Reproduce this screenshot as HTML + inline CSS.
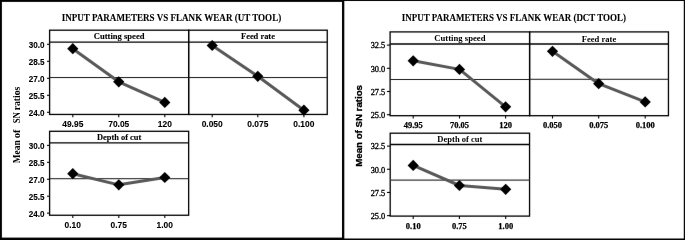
<!DOCTYPE html>
<html><head><meta charset="utf-8"><title>Main effects plots</title>
<style>html,body{margin:0;padding:0;background:#fff;width:685px;height:240px;overflow:hidden}svg{display:block}</style>
</head><body>
<svg xmlns="http://www.w3.org/2000/svg" width="685" height="240" viewBox="0 0 685 240">
<defs>
<filter id="gb" filterUnits="userSpaceOnUse" x="0" y="0" width="685" height="240"><feConvolveMatrix order="3" kernelMatrix="0.0016 0.0371 0.0016 0.0371 0.8450 0.0371 0.0016 0.0371 0.0016" edgeMode="duplicate"/></filter>
<filter id="tb" filterUnits="userSpaceOnUse" x="0" y="0" width="685" height="240"><feConvolveMatrix order="3" kernelMatrix="0 0 0 0 1 0 0 0 0" edgeMode="duplicate"/></filter>
</defs>
<rect x="0" y="0" width="685" height="240" fill="#fff"/>
<g filter="url(#gb)">
<rect x="0" y="0" width="1.9" height="240" fill="#000"/>
<rect x="0" y="0" width="343" height="1.9" fill="#000"/>
<rect x="0" y="237.6" width="343" height="2.4" fill="#000"/>
<line x1="343.15" y1="0" x2="343.15" y2="240" stroke="#000" stroke-width="2.3"/>
<line x1="343" y1="0.5" x2="685" y2="0.5" stroke="#000" stroke-width="1"/>
<line x1="684.4" y1="0" x2="684.4" y2="240" stroke="#000" stroke-width="1.2"/>
<line x1="343" y1="239.25" x2="685" y2="239.25" stroke="#000" stroke-width="1.5"/>
<rect x="49.6" y="30.2" width="139.05" height="84.25" fill="none" stroke="#000" stroke-width="1.3"/>
<line x1="49.6" y1="42.1" x2="188.65" y2="42.1" stroke="#000" stroke-width="1.3"/>
<line x1="49.6" y1="77.55" x2="188.65" y2="77.55" stroke="#1a1a1a" stroke-width="1.0"/>
<line x1="72.8" y1="114.45" x2="72.8" y2="117.25" stroke="#000" stroke-width="1.1"/>
<line x1="118.75" y1="114.45" x2="118.75" y2="117.25" stroke="#000" stroke-width="1.1"/>
<line x1="164.8" y1="114.45" x2="164.8" y2="117.25" stroke="#000" stroke-width="1.1"/>
<line x1="47" y1="44.3" x2="49.6" y2="44.3" stroke="#000" stroke-width="1.1"/>
<line x1="47" y1="61.3" x2="49.6" y2="61.3" stroke="#000" stroke-width="1.1"/>
<line x1="47" y1="78.3" x2="49.6" y2="78.3" stroke="#000" stroke-width="1.1"/>
<line x1="47" y1="95.3" x2="49.6" y2="95.3" stroke="#000" stroke-width="1.1"/>
<line x1="47" y1="112.3" x2="49.6" y2="112.3" stroke="#000" stroke-width="1.1"/>
<path d="M72.8,48.7 L118.75,81.8 L164.8,102.4" fill="none" stroke="#595959" stroke-width="3.0" stroke-linejoin="round"/>
<path d="M72.8,43.1 L78.4,48.7 L72.8,54.3 L67.2,48.7 Z" fill="#000"/>
<path d="M118.75,76.2 L124.35,81.8 L118.75,87.4 L113.15,81.8 Z" fill="#000"/>
<path d="M164.8,96.8 L170.4,102.4 L164.8,108 L159.2,102.4 Z" fill="#000"/>
<rect x="188.65" y="30.2" width="138.6" height="84.25" fill="none" stroke="#000" stroke-width="1.3"/>
<line x1="188.65" y1="42.1" x2="327.25" y2="42.1" stroke="#000" stroke-width="1.3"/>
<line x1="188.65" y1="77.55" x2="327.25" y2="77.55" stroke="#1a1a1a" stroke-width="1.0"/>
<line x1="212.2" y1="114.45" x2="212.2" y2="117.25" stroke="#000" stroke-width="1.1"/>
<line x1="257.8" y1="114.45" x2="257.8" y2="117.25" stroke="#000" stroke-width="1.1"/>
<line x1="303.9" y1="114.45" x2="303.9" y2="117.25" stroke="#000" stroke-width="1.1"/>
<path d="M212.2,45.5 L257.8,76.3 L303.9,110.2" fill="none" stroke="#595959" stroke-width="3.0" stroke-linejoin="round"/>
<path d="M212.2,39.9 L217.8,45.5 L212.2,51.1 L206.6,45.5 Z" fill="#000"/>
<path d="M257.8,70.7 L263.4,76.3 L257.8,81.9 L252.2,76.3 Z" fill="#000"/>
<path d="M303.9,104.6 L309.5,110.2 L303.9,115.8 L298.3,110.2 Z" fill="#000"/>
<rect x="49.6" y="131.3" width="139.05" height="83.95" fill="none" stroke="#000" stroke-width="1.3"/>
<line x1="49.6" y1="142.9" x2="188.65" y2="142.9" stroke="#000" stroke-width="1.3"/>
<line x1="49.6" y1="178.7" x2="188.65" y2="178.7" stroke="#1a1a1a" stroke-width="1.0"/>
<line x1="72.8" y1="215.25" x2="72.8" y2="218.05" stroke="#000" stroke-width="1.1"/>
<line x1="118.8" y1="215.25" x2="118.8" y2="218.05" stroke="#000" stroke-width="1.1"/>
<line x1="164.8" y1="215.25" x2="164.8" y2="218.05" stroke="#000" stroke-width="1.1"/>
<line x1="47" y1="145.39" x2="49.6" y2="145.39" stroke="#000" stroke-width="1.1"/>
<line x1="47" y1="162.33" x2="49.6" y2="162.33" stroke="#000" stroke-width="1.1"/>
<line x1="47" y1="179.27" x2="49.6" y2="179.27" stroke="#000" stroke-width="1.1"/>
<line x1="47" y1="196.21" x2="49.6" y2="196.21" stroke="#000" stroke-width="1.1"/>
<line x1="47" y1="213.15" x2="49.6" y2="213.15" stroke="#000" stroke-width="1.1"/>
<path d="M72.8,173.7 L118.8,184.85 L164.8,177.5" fill="none" stroke="#595959" stroke-width="3.0" stroke-linejoin="round"/>
<path d="M72.8,168.1 L78.4,173.7 L72.8,179.3 L67.2,173.7 Z" fill="#000"/>
<path d="M118.8,179.25 L124.4,184.85 L118.8,190.45 L113.2,184.85 Z" fill="#000"/>
<path d="M164.8,171.9 L170.4,177.5 L164.8,183.1 L159.2,177.5 Z" fill="#000"/>
<rect x="390.1" y="31.9" width="139.5" height="83.8" fill="none" stroke="#000" stroke-width="1.3"/>
<line x1="390.1" y1="44" x2="529.6" y2="44" stroke="#000" stroke-width="1.3"/>
<line x1="390.1" y1="79.5" x2="529.6" y2="79.5" stroke="#1a1a1a" stroke-width="1.0"/>
<line x1="413.2" y1="115.7" x2="413.2" y2="118.5" stroke="#000" stroke-width="1.1"/>
<line x1="459.5" y1="115.7" x2="459.5" y2="118.5" stroke="#000" stroke-width="1.1"/>
<line x1="505.6" y1="115.7" x2="505.6" y2="118.5" stroke="#000" stroke-width="1.1"/>
<line x1="386.9" y1="45.1" x2="390.1" y2="45.1" stroke="#000" stroke-width="1.1"/>
<line x1="386.9" y1="68.3" x2="390.1" y2="68.3" stroke="#000" stroke-width="1.1"/>
<line x1="386.9" y1="91.5" x2="390.1" y2="91.5" stroke="#000" stroke-width="1.1"/>
<line x1="386.9" y1="114.7" x2="390.1" y2="114.7" stroke="#000" stroke-width="1.1"/>
<path d="M413.2,60.8 L459.5,69.4 L505.6,106.8" fill="none" stroke="#595959" stroke-width="3.0" stroke-linejoin="round"/>
<path d="M413.2,55.2 L418.8,60.8 L413.2,66.4 L407.6,60.8 Z" fill="#000"/>
<path d="M459.5,63.8 L465.1,69.4 L459.5,75 L453.9,69.4 Z" fill="#000"/>
<path d="M505.6,101.2 L511.2,106.8 L505.6,112.4 L500,106.8 Z" fill="#000"/>
<rect x="529.6" y="31.9" width="138.85" height="83.8" fill="none" stroke="#000" stroke-width="1.3"/>
<line x1="529.6" y1="44" x2="668.45" y2="44" stroke="#000" stroke-width="1.3"/>
<line x1="529.6" y1="79.3" x2="668.45" y2="79.3" stroke="#1a1a1a" stroke-width="1.0"/>
<line x1="552.5" y1="115.7" x2="552.5" y2="118.5" stroke="#000" stroke-width="1.1"/>
<line x1="598.7" y1="115.7" x2="598.7" y2="118.5" stroke="#000" stroke-width="1.1"/>
<line x1="645.2" y1="115.7" x2="645.2" y2="118.5" stroke="#000" stroke-width="1.1"/>
<path d="M552.5,51.3 L598.7,83.7 L645.2,101.9" fill="none" stroke="#595959" stroke-width="3.0" stroke-linejoin="round"/>
<path d="M552.5,45.7 L558.1,51.3 L552.5,56.9 L546.9,51.3 Z" fill="#000"/>
<path d="M598.7,78.1 L604.3,83.7 L598.7,89.3 L593.1,83.7 Z" fill="#000"/>
<path d="M645.2,96.3 L650.8,101.9 L645.2,107.5 L639.6,101.9 Z" fill="#000"/>
<rect x="390.2" y="133.2" width="139.35" height="82.9" fill="none" stroke="#000" stroke-width="1.3"/>
<line x1="390.2" y1="144.5" x2="529.55" y2="144.5" stroke="#000" stroke-width="1.3"/>
<line x1="390.2" y1="180.1" x2="529.55" y2="180.1" stroke="#3a3a3a" stroke-width="1.4"/>
<line x1="413.2" y1="216.1" x2="413.2" y2="218.9" stroke="#000" stroke-width="1.1"/>
<line x1="459.4" y1="216.1" x2="459.4" y2="218.9" stroke="#000" stroke-width="1.1"/>
<line x1="505.7" y1="216.1" x2="505.7" y2="218.9" stroke="#000" stroke-width="1.1"/>
<line x1="387" y1="146.1" x2="390.2" y2="146.1" stroke="#000" stroke-width="1.1"/>
<line x1="387" y1="169.27" x2="390.2" y2="169.27" stroke="#000" stroke-width="1.1"/>
<line x1="387" y1="192.44" x2="390.2" y2="192.44" stroke="#000" stroke-width="1.1"/>
<line x1="387" y1="215.61" x2="390.2" y2="215.61" stroke="#000" stroke-width="1.1"/>
<path d="M413.2,165.4 L459.4,185.5 L505.7,189.3" fill="none" stroke="#595959" stroke-width="3.0" stroke-linejoin="round"/>
<path d="M413.2,159.8 L418.8,165.4 L413.2,171 L407.6,165.4 Z" fill="#000"/>
<path d="M459.4,179.9 L465,185.5 L459.4,191.1 L453.8,185.5 Z" fill="#000"/>
<path d="M505.7,183.7 L511.3,189.3 L505.7,194.9 L500.1,189.3 Z" fill="#000"/>
</g>
<g filter="url(#tb)">
<text x="61.7" y="20.7" font-family="'Liberation Serif', serif" font-size="10" font-weight="bold" text-anchor="start" textLength="219.5" lengthAdjust="spacingAndGlyphs" stroke="#000" stroke-width="0.1">INPUT PARAMETERS VS FLANK WEAR (UT TOOL)</text>
<text transform="translate(20.1,163.3) rotate(-90)" font-family="'Liberation Serif', serif" font-size="9.6" font-weight="bold"><tspan x="0" textLength="23.0" lengthAdjust="spacingAndGlyphs">Mean</tspan><tspan x="25.0" textLength="8.8" lengthAdjust="spacingAndGlyphs">of</tspan><tspan x="40.0" textLength="11.2" lengthAdjust="spacingAndGlyphs">SN</tspan><tspan x="53.0" textLength="23.6" lengthAdjust="spacingAndGlyphs">ratios</tspan></text>
<text x="119.12" y="38.7" font-family="'Liberation Serif', serif" font-size="8.2" font-weight="bold" text-anchor="middle" textLength="50.8" lengthAdjust="spacingAndGlyphs" stroke="#000" stroke-width="0.1">Cutting speed</text>
<text x="72.8" y="126.7" font-family="'Liberation Sans', sans-serif" font-size="9" font-weight="bold" text-anchor="middle" textLength="21.1" lengthAdjust="spacingAndGlyphs" stroke="#000" stroke-width="0.1">49.95</text>
<text x="118.75" y="126.7" font-family="'Liberation Sans', sans-serif" font-size="9" font-weight="bold" text-anchor="middle" textLength="21.1" lengthAdjust="spacingAndGlyphs" stroke="#000" stroke-width="0.1">70.05</text>
<text x="164.8" y="126.7" font-family="'Liberation Sans', sans-serif" font-size="9" font-weight="bold" text-anchor="middle" textLength="14.1" lengthAdjust="spacingAndGlyphs" stroke="#000" stroke-width="0.1">120</text>
<text x="44.5" y="47.75" font-family="'Liberation Sans', sans-serif" font-size="9" font-weight="bold" text-anchor="end" textLength="15.8" lengthAdjust="spacingAndGlyphs" stroke="#000" stroke-width="0.1">30.0</text>
<text x="44.5" y="64.75" font-family="'Liberation Sans', sans-serif" font-size="9" font-weight="bold" text-anchor="end" textLength="15.8" lengthAdjust="spacingAndGlyphs" stroke="#000" stroke-width="0.1">28.5</text>
<text x="44.5" y="81.75" font-family="'Liberation Sans', sans-serif" font-size="9" font-weight="bold" text-anchor="end" textLength="15.8" lengthAdjust="spacingAndGlyphs" stroke="#000" stroke-width="0.1">27.0</text>
<text x="44.5" y="98.75" font-family="'Liberation Sans', sans-serif" font-size="9" font-weight="bold" text-anchor="end" textLength="15.8" lengthAdjust="spacingAndGlyphs" stroke="#000" stroke-width="0.1">25.5</text>
<text x="44.5" y="115.75" font-family="'Liberation Sans', sans-serif" font-size="9" font-weight="bold" text-anchor="end" textLength="15.8" lengthAdjust="spacingAndGlyphs" stroke="#000" stroke-width="0.1">24.0</text>
<text x="257.95" y="38.7" font-family="'Liberation Serif', serif" font-size="8.2" font-weight="bold" text-anchor="middle" textLength="33.9" lengthAdjust="spacingAndGlyphs" stroke="#000" stroke-width="0.1">Feed rate</text>
<text x="212.2" y="126.7" font-family="'Liberation Sans', sans-serif" font-size="9" font-weight="bold" text-anchor="middle" textLength="21.1" lengthAdjust="spacingAndGlyphs" stroke="#000" stroke-width="0.1">0.050</text>
<text x="257.8" y="126.7" font-family="'Liberation Sans', sans-serif" font-size="9" font-weight="bold" text-anchor="middle" textLength="21.1" lengthAdjust="spacingAndGlyphs" stroke="#000" stroke-width="0.1">0.075</text>
<text x="303.9" y="126.7" font-family="'Liberation Sans', sans-serif" font-size="9" font-weight="bold" text-anchor="middle" textLength="21.1" lengthAdjust="spacingAndGlyphs" stroke="#000" stroke-width="0.1">0.100</text>
<text x="119.12" y="139.6" font-family="'Liberation Serif', serif" font-size="8.2" font-weight="bold" text-anchor="middle" textLength="44.4" lengthAdjust="spacingAndGlyphs" stroke="#000" stroke-width="0.1">Depth of cut</text>
<text x="72.8" y="227.6" font-family="'Liberation Sans', sans-serif" font-size="9" font-weight="bold" text-anchor="middle" textLength="16.4" lengthAdjust="spacingAndGlyphs" stroke="#000" stroke-width="0.1">0.10</text>
<text x="118.8" y="227.6" font-family="'Liberation Sans', sans-serif" font-size="9" font-weight="bold" text-anchor="middle" textLength="16.4" lengthAdjust="spacingAndGlyphs" stroke="#000" stroke-width="0.1">0.75</text>
<text x="164.8" y="227.6" font-family="'Liberation Sans', sans-serif" font-size="9" font-weight="bold" text-anchor="middle" textLength="16.4" lengthAdjust="spacingAndGlyphs" stroke="#000" stroke-width="0.1">1.00</text>
<text x="44.5" y="148.84" font-family="'Liberation Sans', sans-serif" font-size="9" font-weight="bold" text-anchor="end" textLength="15.8" lengthAdjust="spacingAndGlyphs" stroke="#000" stroke-width="0.1">30.0</text>
<text x="44.5" y="165.78" font-family="'Liberation Sans', sans-serif" font-size="9" font-weight="bold" text-anchor="end" textLength="15.8" lengthAdjust="spacingAndGlyphs" stroke="#000" stroke-width="0.1">28.5</text>
<text x="44.5" y="182.72" font-family="'Liberation Sans', sans-serif" font-size="9" font-weight="bold" text-anchor="end" textLength="15.8" lengthAdjust="spacingAndGlyphs" stroke="#000" stroke-width="0.1">27.0</text>
<text x="44.5" y="199.66" font-family="'Liberation Sans', sans-serif" font-size="9" font-weight="bold" text-anchor="end" textLength="15.8" lengthAdjust="spacingAndGlyphs" stroke="#000" stroke-width="0.1">25.5</text>
<text x="44.5" y="216.6" font-family="'Liberation Sans', sans-serif" font-size="9" font-weight="bold" text-anchor="end" textLength="15.8" lengthAdjust="spacingAndGlyphs" stroke="#000" stroke-width="0.1">24.0</text>
<text x="401.8" y="20.7" font-family="'Liberation Serif', serif" font-size="10" font-weight="bold" text-anchor="start" textLength="224.2" lengthAdjust="spacingAndGlyphs" stroke="#000" stroke-width="0.1">INPUT PARAMETERS VS FLANK WEAR (DCT TOOL)</text>
<text transform="translate(362.3,166.8) rotate(-90)" font-family="'Liberation Sans', sans-serif" font-size="9.6" font-weight="bold" text-anchor="start" textLength="81.8" lengthAdjust="spacingAndGlyphs" stroke="#000" stroke-width="0.3">Mean of SN ratios</text>
<text x="459.85" y="41.4" font-family="'Liberation Serif', serif" font-size="8.2" font-weight="bold" text-anchor="middle" textLength="51.2" lengthAdjust="spacingAndGlyphs">Cutting speed</text>
<text x="413.2" y="127.7" font-family="'Liberation Serif', serif" font-size="8.5" font-weight="bold" text-anchor="middle" stroke="#000" stroke-width="0.25">49.95</text>
<text x="459.5" y="127.7" font-family="'Liberation Serif', serif" font-size="8.5" font-weight="bold" text-anchor="middle" stroke="#000" stroke-width="0.25">70.05</text>
<text x="505.6" y="127.7" font-family="'Liberation Serif', serif" font-size="8.5" font-weight="bold" text-anchor="middle" stroke="#000" stroke-width="0.25">120</text>
<text x="385.3" y="48.4" font-family="'Liberation Serif', serif" font-size="9.2" font-weight="normal" text-anchor="end" textLength="14.6" lengthAdjust="spacingAndGlyphs" stroke="#000" stroke-width="0.35">32.5</text>
<text x="385.3" y="71.6" font-family="'Liberation Serif', serif" font-size="9.2" font-weight="normal" text-anchor="end" textLength="14.6" lengthAdjust="spacingAndGlyphs" stroke="#000" stroke-width="0.35">30.0</text>
<text x="385.3" y="94.8" font-family="'Liberation Serif', serif" font-size="9.2" font-weight="normal" text-anchor="end" textLength="14.6" lengthAdjust="spacingAndGlyphs" stroke="#000" stroke-width="0.35">27.5</text>
<text x="385.3" y="118" font-family="'Liberation Serif', serif" font-size="9.2" font-weight="normal" text-anchor="end" textLength="14.6" lengthAdjust="spacingAndGlyphs" stroke="#000" stroke-width="0.35">25.0</text>
<text x="599.03" y="41.5" font-family="'Liberation Serif', serif" font-size="8.2" font-weight="bold" text-anchor="middle" textLength="34.5" lengthAdjust="spacingAndGlyphs">Feed rate</text>
<text x="552.5" y="127.7" font-family="'Liberation Serif', serif" font-size="8.5" font-weight="bold" text-anchor="middle" stroke="#000" stroke-width="0.25">0.050</text>
<text x="598.7" y="127.7" font-family="'Liberation Serif', serif" font-size="8.5" font-weight="bold" text-anchor="middle" stroke="#000" stroke-width="0.25">0.075</text>
<text x="645.2" y="127.7" font-family="'Liberation Serif', serif" font-size="8.5" font-weight="bold" text-anchor="middle" stroke="#000" stroke-width="0.25">0.100</text>
<text x="459.88" y="142.3" font-family="'Liberation Serif', serif" font-size="8.2" font-weight="bold" text-anchor="middle" textLength="45" lengthAdjust="spacingAndGlyphs">Depth of cut</text>
<text x="413.2" y="228.8" font-family="'Liberation Serif', serif" font-size="8.5" font-weight="bold" text-anchor="middle" stroke="#000" stroke-width="0.25">0.10</text>
<text x="459.4" y="228.8" font-family="'Liberation Serif', serif" font-size="8.5" font-weight="bold" text-anchor="middle" stroke="#000" stroke-width="0.25">0.75</text>
<text x="505.7" y="228.8" font-family="'Liberation Serif', serif" font-size="8.5" font-weight="bold" text-anchor="middle" stroke="#000" stroke-width="0.25">1.00</text>
<text x="385.3" y="149.4" font-family="'Liberation Serif', serif" font-size="9.2" font-weight="normal" text-anchor="end" textLength="14.6" lengthAdjust="spacingAndGlyphs" stroke="#000" stroke-width="0.35">32.5</text>
<text x="385.3" y="172.57" font-family="'Liberation Serif', serif" font-size="9.2" font-weight="normal" text-anchor="end" textLength="14.6" lengthAdjust="spacingAndGlyphs" stroke="#000" stroke-width="0.35">30.0</text>
<text x="385.3" y="195.74" font-family="'Liberation Serif', serif" font-size="9.2" font-weight="normal" text-anchor="end" textLength="14.6" lengthAdjust="spacingAndGlyphs" stroke="#000" stroke-width="0.35">27.5</text>
<text x="385.3" y="218.91" font-family="'Liberation Serif', serif" font-size="9.2" font-weight="normal" text-anchor="end" textLength="14.6" lengthAdjust="spacingAndGlyphs" stroke="#000" stroke-width="0.35">25.0</text>
</g>
</svg>
</body></html>
